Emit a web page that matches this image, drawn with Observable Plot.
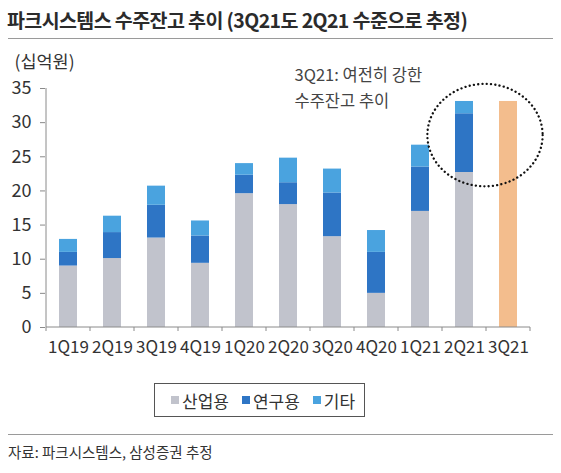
<!DOCTYPE html>
<html><head><meta charset="utf-8">
<script src="https://cdn.jsdelivr.net/npm/d3@7"></script>
<script src="https://cdn.jsdelivr.net/npm/@observablehq/plot@0.6"></script>
<style>
body{margin:0;background:#fff;font-family:"Noto Sans CJK KR",sans-serif;color:#333;}
#wrap{position:relative;width:561px;height:473px;overflow:hidden;}
#title{position:absolute;left:7px;top:5px;font-size:19.5px;font-weight:bold;letter-spacing:-0.6px;white-space:nowrap;color:#2b2b2b;}
.hr{position:absolute;left:8px;width:545px;height:0;border-top:1.5px solid #9a9a9a;}
#chart{position:absolute;left:0;top:40px;}
#legend{position:absolute;left:154px;top:383px;width:211px;height:34px;border:1px solid #555;display:flex;align-items:center;padding-left:16px;box-sizing:border-box;font-size:17px;color:#333;white-space:nowrap;}
#legend .item{display:flex;align-items:center;margin-right:13px;flex-shrink:0;white-space:nowrap;}
#legend .sw{width:8px;height:8px;margin-right:3px;flex-shrink:0;}
#source{position:absolute;left:8px;top:441px;font-size:14.5px;color:#333;}
</style>
</head><body>
<div id="wrap">
  <div id="title"></div>
  <div class="hr" style="top:38px"></div>
  <div id="chart"></div>
  <div id="legend"></div>
  <div class="hr" style="top:434px"></div>
  <div id="source"></div>
</div>
<script>
const titleText = "파크시스템스 수주잔고 추이 (3Q21도 2Q21 수준으로 추정)";
const sourceText = "자료: 파크시스템스, 삼성증권 추정";
const unitLabel = "(십억원)";
const annotationLines = ["3Q21: 여전히 강한", "수주잔고 추이"];

const quarters = ["1Q19","2Q19","3Q19","4Q19","1Q20","2Q20","3Q20","4Q20","1Q21","2Q21","3Q21"];
const seriesNames = ["산업용","연구용","기타"];
const industrial = [9.0, 10.1, 13.1, 9.4, 19.6, 18.0, 13.3, 5.0, 17.0, 22.7];
const research   = [2.0, 3.8, 4.8, 4.0, 2.7, 3.2, 6.4, 6.0, 6.5, 8.6];
const other      = [1.9, 2.4, 2.8, 2.2, 1.7, 3.6, 3.5, 3.2, 3.2, 1.8];
const estimateQuarter = "3Q21";
const estimateValue = 33.1;
const yTicks = [0,5,10,15,20,25,30,35];
const seriesColors = ["#c1c3cc","#2e75c5","#4aa3df"];
const estimateColor = "#f3bd8d";

document.getElementById("title").textContent = titleText;
document.getElementById("source").textContent = sourceText;

const seriesValues = [industrial, research, other];
const rows = [];
industrial.forEach((_, i) => {
  seriesNames.forEach((s, k) => rows.push({q: quarters[i], series: s, value: seriesValues[k][i]}));
});

// legend
const leg = document.getElementById("legend");
seriesNames.forEach((s, k) => {
  const it = document.createElement("div"); it.className = "item";
  const sw = document.createElement("div"); sw.className = "sw"; sw.style.background = seriesColors[k];
  const t = document.createElement("span"); t.textContent = s;
  it.appendChild(sw); it.appendChild(t); leg.appendChild(it);
});

function bandInfo(scales) {
  const x = scales.x;
  const step = typeof x.step === "function" ? x.step() : scales.scales.x.step;
  const bw = typeof x.bandwidth === "function" ? x.bandwidth() : scales.scales.x.bandwidth;
  return {x, step, bw};
}

function axisLines(index, scales) {
  const {x, step, bw} = bandInfo(scales);
  const y = scales.y;
  const g = d3.create("svg:g").attr("stroke", "#8a8a8a").attr("stroke-width", 1);
  const y0 = y(0);
  const left = x(quarters[0]) + bw / 2 - step / 2;
  g.append("line").attr("x1", left).attr("x2", left).attr("y1", y0).attr("y2", y(yTicks[yTicks.length - 1]));
  const bounds = quarters.map(q => x(q) + bw / 2 - step / 2);
  bounds.push(x(quarters[quarters.length - 1]) + bw / 2 + step / 2);
  g.append("line").attr("x1", bounds[0]).attr("x2", bounds[bounds.length - 1]).attr("y1", y0).attr("y2", y0);
  bounds.forEach(b => g.append("line").attr("x1", b).attr("x2", b).attr("y1", y0).attr("y2", y0 + 4));
  return g.node();
}

// dotted highlight ellipse around 2Q21 / 3Q21
const highlight = {from: "2Q21", to: "3Q21", yCenter: 28.1, yRadius: 7.5, xRadiusSteps: 1.31};
function highlightEllipse(index, scales) {
  const {x, step, bw} = bandInfo(scales);
  const y = scales.y;
  const cx = (x(highlight.from) + x(highlight.to)) / 2 + bw / 2 - 1;
  const cy = y(highlight.yCenter);
  const ry = Math.abs(y(highlight.yCenter + highlight.yRadius) - cy);
  return d3.create("svg:ellipse")
    .attr("cx", cx).attr("cy", cy).attr("rx", step * highlight.xRadiusSteps).attr("ry", ry)
    .attr("fill", "none").attr("stroke", "#111").attr("stroke-width", 2.3)
    .attr("stroke-linecap", "round").attr("stroke-dasharray", "0.1 4.2").node();
}

const chart = Plot.plot({
  width: 561, height: 320,
  marginLeft: 45, marginRight: 29, marginTop: 48, marginBottom: 33,
  style: {fontFamily: '"Noto Sans CJK KR", sans-serif', fontSize: "16px", color: "#333", background: "transparent", overflow: "visible"},
  x: {domain: quarters, paddingInner: 0.59, paddingOuter: 0.295, label: null},
  y: {domain: [0, 35], label: null},
  color: {domain: seriesNames, range: seriesColors},
  marks: [
    Plot.barY(rows, {x: "q", y: "value", fill: "series"}),
    Plot.barY([{q: estimateQuarter, value: estimateValue}], {x: "q", y: "value", fill: estimateColor}),
    axisLines,
    Plot.axisY({ticks: yTicks, tickSize: 5, tickPadding: 9, stroke: "#8a8a8a", fill: "#333", fontSize: 18, label: null}),
    Plot.axisX({tickSize: 0, tickPadding: 13, fill: "#333", fontSize: 17, label: null, style: {letterSpacing: "-1.4px"}}),
    highlightEllipse,
    Plot.text(annotationLines.map((t, i) => ({t, i})), {
      x: () => "3Q20", y: d => [36.9, 33.1][d.i], text: "t",
      textAnchor: "start", dx: -38, fontSize: 16.5, fill: "#444"
    }),
    Plot.text([unitLabel], {frameAnchor: "top-left", dx: -31, dy: -26, lineAnchor: "middle", textAnchor: "start", fontSize: 17.5, fill: "#333"})
  ]
});
document.getElementById("chart").appendChild(chart);
</script>
</body></html>
